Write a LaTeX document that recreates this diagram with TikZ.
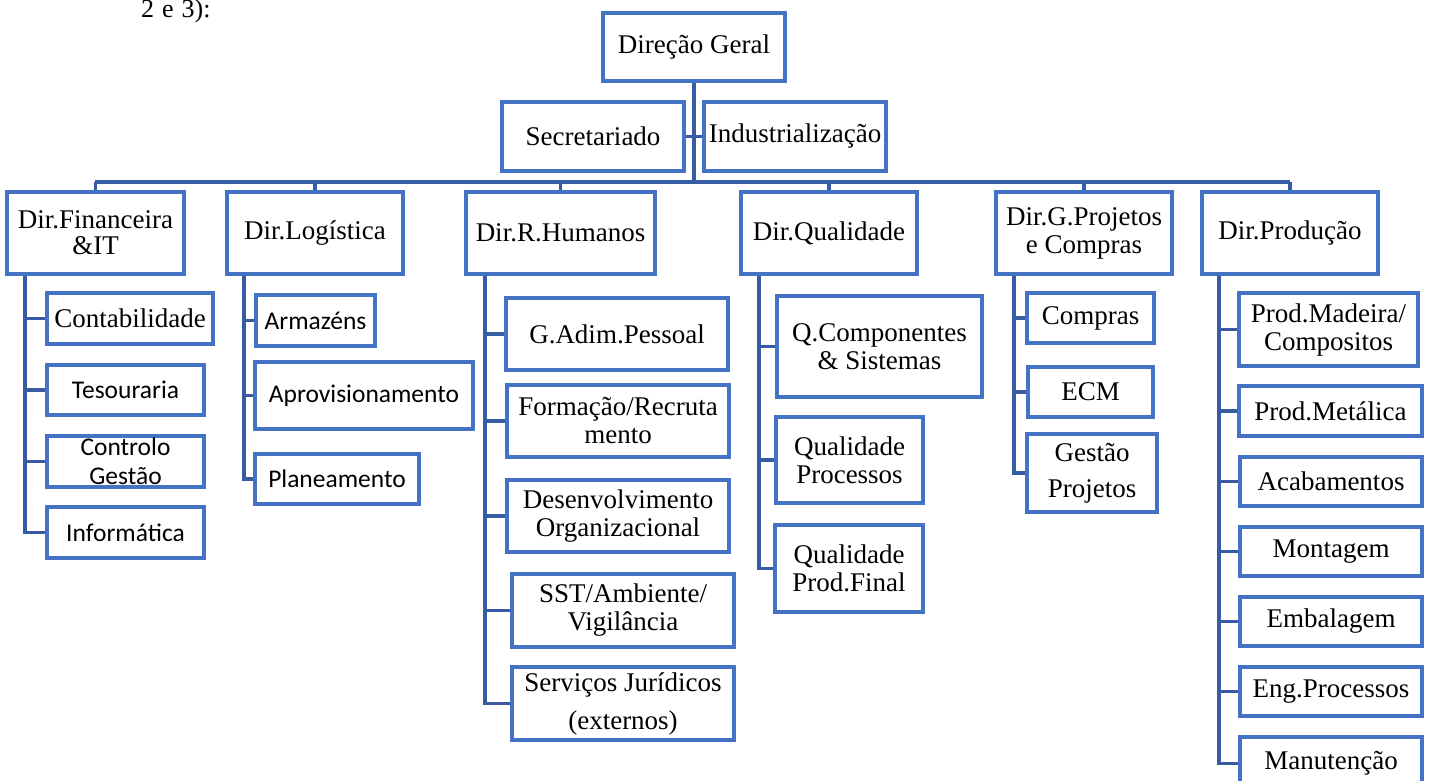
\documentclass[tikz,border=0pt]{standalone}
\usepackage{fontspec}
\setmainfont{Liberation Serif}
\newfontfamily\calib{Carlito}
\definecolor{boxblue}{RGB}{68,114,196}
\definecolor{lineblue}{RGB}{56,92,164}

% \bx[options]{name}{x1}{y1}{x2}{y2}{text}: a framed unit given by its corners
\newcommand{\bx}[7][]{%
  \node[unit,#1,minimum width={#5pt-#3pt},minimum height={#6pt-#4pt}]
    (#2) at ({(#3+#5)/2},{(#4+#6)/2}) {#7};}

\begin{document}
\begin{tikzpicture}[x=1pt,y=-1pt,
  unit/.style={draw=boxblue,line width=3.2pt,inner sep=0pt,align=center,
               font=\fontsize{27}{28}\selectfont},
  cal/.style={font=\calib\fontsize{25.5}{29}\selectfont},
  link/.style={draw=lineblue,line width=3.4pt}]

\clip (0,0) rectangle (1429,780);
\useasboundingbox (0,0) rectangle (1429,780);

% running text above the chart
\node[anchor=base west,inner sep=0pt,font=\fontsize{26}{26}\selectfont]
  (txt) at (141,17) {2\hspace{8pt}e\hspace{8pt}3):};

% top level
\bx{dg}{603}{13}{785}{81}{Direção Geral}
\bx{sec}{502}{102}{684}{171}{Secretariado}
\bx{ind}{704}{102}{886}{171}{Industrialização}

% directorates
\bx{fin}{7}{192}{184}{274}{Dir.Financeira\\[-2pt]\&IT}
\bx{log}{227}{192}{403}{274}{Dir.Logística}
\bx{rh}{466}{192}{655}{274}{Dir.R.Humanos}
\bx{qual}{741}{192}{917}{274}{Dir.Qualidade}
\bx{gp}{996}{192}{1172}{274}{Dir.G.Projetos\\e Compras}
\bx{prod}{1202}{192}{1378}{274}{Dir.Produção}

% Financeira & IT
\bx{cont}{47}{293}{213}{344}{Contabilidade}
\bx[cal]{tes}{47}{365}{204}{415}{Tesouraria}
\bx[cal]{ctl}{47}{436}{204}{487}{Controlo\\Gestão}
\bx[cal]{inf}{47}{507}{204}{558}{Informática}

% Logística
\bx[cal]{arm}{256}{295}{375}{346}{Armazéns}
\bx[cal]{apr}{255}{362}{473}{429}{Aprovisionamento}
\bx[cal]{pla}{255}{454}{419}{504}{Planeamento}

% Recursos Humanos
\bx{gad}{506}{298}{728}{370}{G.Adim.Pessoal}
\bx{frm}{507}{385}{729}{457}{Formação/Recruta\\mento}
\bx{des}{507}{480}{729}{552}{Desenvolvimento\\Organizacional}
\bx{sst}{512}{574}{734}{647}{SST/Ambiente/\\Vigilância}
\bx{srv}{512}{667}{734}{740}{Serviços Jurídicos\\[10pt](externos)}

% Qualidade
\bx{qc}{777}{296}{982}{397}{Q.Componentes\\\& Sistemas}
\bx{qp}{776}{417}{923}{503}{Qualidade\\Processos}
\bx{qf}{775}{525}{923}{612}{Qualidade\\Prod.Final}

% Gestão de Projetos e Compras
\bx{cmp}{1027}{293}{1154}{343}{Compras}
\bx{ecm}{1028}{367}{1153}{417}{ECM}
\bx{gpj}{1027}{434}{1157}{512}{Gestão\\[8pt]Projetos}

% Produção
\bx{pm}{1239}{293}{1418}{366}{Prod.Madeira/\\Compositos}
\bx{pmt}{1239}{386}{1422}{436}{Prod.Metálica}
\bx{aca}{1240}{457}{1422}{506}{Acabamentos}
\bx{mon}{1240}{527}{1422}{576}{Montagem}
\bx{emb}{1240}{597}{1422}{646}{Embalagem}
\bx{eng}{1240}{667}{1422}{716}{Eng.Processos}
\bx{man}{1240}{737}{1422}{790}{Manutenção}

% trunk, staff links and the directorate bus
\coordinate (busL) at (95,182);
\coordinate (busR) at (1290,182);
\draw[link] (dg.south) -- (dg.south |- busL);
\draw[link] (sec.east) -- (ind.west);
\draw[link] (busL) -- (busR);
\foreach \d in {fin,log,rh,qual,gp,prod}
  \draw[link] (\d.north) -- (\d.north |- busL);

% spines from each directorate to its units
\coordinate (sFin) at (25,0);
\coordinate (sLog) at (244,0);
\coordinate (sRh) at (485,0);
\coordinate (sQual) at (759,0);
\coordinate (sGp) at (1014,0);
\coordinate (sProd) at (1219,0);
\foreach \c in {cont,tes,ctl,inf}
  \draw[link] (fin.south -| sFin) |- (\c.west);
\foreach \c in {arm,apr,pla}
  \draw[link] (log.south -| sLog) |- (\c.west);
\foreach \c in {gad,frm,des,sst,srv}
  \draw[link] (rh.south -| sRh) |- (\c.west);
\foreach \c in {qc,qp,qf}
  \draw[link] (qual.south -| sQual) |- (\c.west);
\foreach \c in {cmp,ecm,gpj}
  \draw[link] (gp.south -| sGp) |- (\c.west);
\foreach \c in {pm,pmt,aca,mon,emb,eng,man}
  \draw[link] (prod.south -| sProd) |- (\c.west);
\end{tikzpicture}
\end{document}
